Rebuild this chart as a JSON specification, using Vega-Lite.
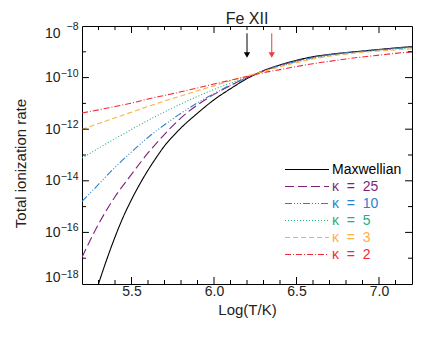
{
  "$schema": "https://vega.github.io/schema/vega-lite/v6.json",
  "width": 330,
  "height": 258,
  "autosize": {"type": "none"},
  "padding": {"left": 82, "top": 26, "right": 24, "bottom": 53},
  "title": {"text": "Fe XII", "fontSize": 16, "font": "Liberation Sans", "fontWeight": "normal", "anchor": "middle", "offset": -5, "color": "#222222"},
  "config": {"view": {"stroke": "black", "strokeWidth": 1}, "font": "Liberation Sans"},
  "datasets": {
    "curves": [
      {"series": "Maxwellian", "logT": 5.2, "rate": 6.31e-21},
      {"series": "Maxwellian", "logT": 5.25, "rate": 8.913e-20},
      {"series": "Maxwellian", "logT": 5.3, "rate": 1.0e-18},
      {"series": "Maxwellian", "logT": 5.35, "rate": 8.913e-18},
      {"series": "Maxwellian", "logT": 5.4, "rate": 6.607e-17},
      {"series": "Maxwellian", "logT": 5.45, "rate": 3.981e-16},
      {"series": "Maxwellian", "logT": 5.5, "rate": 1.862e-15},
      {"series": "Maxwellian", "logT": 5.55, "rate": 7.413e-15},
      {"series": "Maxwellian", "logT": 5.6, "rate": 2.57e-14},
      {"series": "Maxwellian", "logT": 5.65, "rate": 7.943e-14},
      {"series": "Maxwellian", "logT": 5.7, "rate": 2.239e-13},
      {"series": "Maxwellian", "logT": 5.75, "rate": 5.248e-13},
      {"series": "Maxwellian", "logT": 5.8, "rate": 1.122e-12},
      {"series": "Maxwellian", "logT": 5.9, "rate": 4.169e-12},
      {"series": "Maxwellian", "logT": 6.0, "rate": 1.38e-11},
      {"series": "Maxwellian", "logT": 6.1, "rate": 3.715e-11},
      {"series": "Maxwellian", "logT": 6.2, "rate": 9.12e-11},
      {"series": "Maxwellian", "logT": 6.3, "rate": 1.862e-10},
      {"series": "Maxwellian", "logT": 6.4, "rate": 3.09e-10},
      {"series": "Maxwellian", "logT": 6.5, "rate": 4.677e-10},
      {"series": "Maxwellian", "logT": 6.6, "rate": 6.457e-10},
      {"series": "Maxwellian", "logT": 6.7, "rate": 7.943e-10},
      {"series": "Maxwellian", "logT": 6.8, "rate": 9.333e-10},
      {"series": "Maxwellian", "logT": 6.9, "rate": 1.072e-9},
      {"series": "Maxwellian", "logT": 7.0, "rate": 1.23e-9},
      {"series": "Maxwellian", "logT": 7.1, "rate": 1.413e-9},
      {"series": "Maxwellian", "logT": 7.2, "rate": 1.585e-9},

      {"series": "κ\u00a0\u00a0=\u00a0\u00a025", "logT": 5.2, "rate": 1.096e-17},
      {"series": "κ\u00a0\u00a0=\u00a0\u00a025", "logT": 5.3, "rate": 2.089e-16},
      {"series": "κ\u00a0\u00a0=\u00a0\u00a025", "logT": 5.4, "rate": 2.399e-15},
      {"series": "κ\u00a0\u00a0=\u00a0\u00a025", "logT": 5.5, "rate": 1.778e-14},
      {"series": "κ\u00a0\u00a0=\u00a0\u00a025", "logT": 5.6, "rate": 1.202e-13},
      {"series": "κ\u00a0\u00a0=\u00a0\u00a025", "logT": 5.7, "rate": 6.31e-13},
      {"series": "κ\u00a0\u00a0=\u00a0\u00a025", "logT": 5.8, "rate": 2.754e-12},
      {"series": "κ\u00a0\u00a0=\u00a0\u00a025", "logT": 5.9, "rate": 8.71e-12},
      {"series": "κ\u00a0\u00a0=\u00a0\u00a025", "logT": 6.0, "rate": 2.239e-11},
      {"series": "κ\u00a0\u00a0=\u00a0\u00a025", "logT": 6.1, "rate": 4.898e-11},
      {"series": "κ\u00a0\u00a0=\u00a0\u00a025", "logT": 6.2, "rate": 1.0e-10},
      {"series": "κ\u00a0\u00a0=\u00a0\u00a025", "logT": 6.3, "rate": 1.82e-10},
      {"series": "κ\u00a0\u00a0=\u00a0\u00a025", "logT": 6.4, "rate": 3.02e-10},
      {"series": "κ\u00a0\u00a0=\u00a0\u00a025", "logT": 6.5, "rate": 4.467e-10},
      {"series": "κ\u00a0\u00a0=\u00a0\u00a025", "logT": 6.6, "rate": 6.166e-10},
      {"series": "κ\u00a0\u00a0=\u00a0\u00a025", "logT": 6.7, "rate": 7.762e-10},
      {"series": "κ\u00a0\u00a0=\u00a0\u00a025", "logT": 6.8, "rate": 9.12e-10},
      {"series": "κ\u00a0\u00a0=\u00a0\u00a025", "logT": 6.9, "rate": 1.047e-9},
      {"series": "κ\u00a0\u00a0=\u00a0\u00a025", "logT": 7.0, "rate": 1.202e-9},
      {"series": "κ\u00a0\u00a0=\u00a0\u00a025", "logT": 7.1, "rate": 1.38e-9},
      {"series": "κ\u00a0\u00a0=\u00a0\u00a025", "logT": 7.2, "rate": 1.549e-9},

      {"series": "κ\u00a0\u00a0=\u00a0\u00a010", "logT": 5.2, "rate": 1.585e-15},
      {"series": "κ\u00a0\u00a0=\u00a0\u00a010", "logT": 5.3, "rate": 7.244e-15},
      {"series": "κ\u00a0\u00a0=\u00a0\u00a010", "logT": 5.4, "rate": 3.311e-14},
      {"series": "κ\u00a0\u00a0=\u00a0\u00a010", "logT": 5.5, "rate": 1.318e-13},
      {"series": "κ\u00a0\u00a0=\u00a0\u00a010", "logT": 5.6, "rate": 4.786e-13},
      {"series": "κ\u00a0\u00a0=\u00a0\u00a010", "logT": 5.7, "rate": 1.479e-12},
      {"series": "κ\u00a0\u00a0=\u00a0\u00a010", "logT": 5.8, "rate": 4.169e-12},
      {"series": "κ\u00a0\u00a0=\u00a0\u00a010", "logT": 5.9, "rate": 1.047e-11},
      {"series": "κ\u00a0\u00a0=\u00a0\u00a010", "logT": 6.0, "rate": 2.399e-11},
      {"series": "κ\u00a0\u00a0=\u00a0\u00a010", "logT": 6.1, "rate": 5.129e-11},
      {"series": "κ\u00a0\u00a0=\u00a0\u00a010", "logT": 6.2, "rate": 1.0e-10},
      {"series": "κ\u00a0\u00a0=\u00a0\u00a010", "logT": 6.3, "rate": 1.778e-10},
      {"series": "κ\u00a0\u00a0=\u00a0\u00a010", "logT": 6.4, "rate": 2.884e-10},
      {"series": "κ\u00a0\u00a0=\u00a0\u00a010", "logT": 6.5, "rate": 4.266e-10},
      {"series": "κ\u00a0\u00a0=\u00a0\u00a010", "logT": 6.6, "rate": 5.888e-10},
      {"series": "κ\u00a0\u00a0=\u00a0\u00a010", "logT": 6.7, "rate": 7.586e-10},
      {"series": "κ\u00a0\u00a0=\u00a0\u00a010", "logT": 6.8, "rate": 9.12e-10},
      {"series": "κ\u00a0\u00a0=\u00a0\u00a010", "logT": 6.9, "rate": 1.047e-9},
      {"series": "κ\u00a0\u00a0=\u00a0\u00a010", "logT": 7.0, "rate": 1.202e-9},
      {"series": "κ\u00a0\u00a0=\u00a0\u00a010", "logT": 7.1, "rate": 1.349e-9},
      {"series": "κ\u00a0\u00a0=\u00a0\u00a010", "logT": 7.2, "rate": 1.514e-9},

      {"series": "κ\u00a0\u00a0=\u00a0\u00a05", "logT": 5.2, "rate": 7.586e-14},
      {"series": "κ\u00a0\u00a0=\u00a0\u00a05", "logT": 5.3, "rate": 1.82e-13},
      {"series": "κ\u00a0\u00a0=\u00a0\u00a05", "logT": 5.4, "rate": 4.266e-13},
      {"series": "κ\u00a0\u00a0=\u00a0\u00a05", "logT": 5.5, "rate": 9.772e-13},
      {"series": "κ\u00a0\u00a0=\u00a0\u00a05", "logT": 5.6, "rate": 2.188e-12},
      {"series": "κ\u00a0\u00a0=\u00a0\u00a05", "logT": 5.7, "rate": 4.677e-12},
      {"series": "κ\u00a0\u00a0=\u00a0\u00a05", "logT": 5.8, "rate": 9.55e-12},
      {"series": "κ\u00a0\u00a0=\u00a0\u00a05", "logT": 5.9, "rate": 1.862e-11},
      {"series": "κ\u00a0\u00a0=\u00a0\u00a05", "logT": 6.0, "rate": 3.467e-11},
      {"series": "κ\u00a0\u00a0=\u00a0\u00a05", "logT": 6.1, "rate": 6.166e-11},
      {"series": "κ\u00a0\u00a0=\u00a0\u00a05", "logT": 6.2, "rate": 1.047e-10},
      {"series": "κ\u00a0\u00a0=\u00a0\u00a05", "logT": 6.3, "rate": 1.738e-10},
      {"series": "κ\u00a0\u00a0=\u00a0\u00a05", "logT": 6.4, "rate": 2.754e-10},
      {"series": "κ\u00a0\u00a0=\u00a0\u00a05", "logT": 6.5, "rate": 4.074e-10},
      {"series": "κ\u00a0\u00a0=\u00a0\u00a05", "logT": 6.6, "rate": 5.623e-10},
      {"series": "κ\u00a0\u00a0=\u00a0\u00a05", "logT": 6.7, "rate": 7.244e-10},
      {"series": "κ\u00a0\u00a0=\u00a0\u00a05", "logT": 6.8, "rate": 8.71e-10},
      {"series": "κ\u00a0\u00a0=\u00a0\u00a05", "logT": 6.9, "rate": 1.023e-9},
      {"series": "κ\u00a0\u00a0=\u00a0\u00a05", "logT": 7.0, "rate": 1.148e-9},
      {"series": "κ\u00a0\u00a0=\u00a0\u00a05", "logT": 7.1, "rate": 1.288e-9},
      {"series": "κ\u00a0\u00a0=\u00a0\u00a05", "logT": 7.2, "rate": 1.413e-9},

      {"series": "κ\u00a0\u00a0=\u00a0\u00a03", "logT": 5.2, "rate": 9.772e-13},
      {"series": "κ\u00a0\u00a0=\u00a0\u00a03", "logT": 5.3, "rate": 1.66e-12},
      {"series": "κ\u00a0\u00a0=\u00a0\u00a03", "logT": 5.4, "rate": 2.754e-12},
      {"series": "κ\u00a0\u00a0=\u00a0\u00a03", "logT": 5.5, "rate": 4.571e-12},
      {"series": "κ\u00a0\u00a0=\u00a0\u00a03", "logT": 5.6, "rate": 7.586e-12},
      {"series": "κ\u00a0\u00a0=\u00a0\u00a03", "logT": 5.7, "rate": 1.23e-11},
      {"series": "κ\u00a0\u00a0=\u00a0\u00a03", "logT": 5.8, "rate": 1.95e-11},
      {"series": "κ\u00a0\u00a0=\u00a0\u00a03", "logT": 5.9, "rate": 3.09e-11},
      {"series": "κ\u00a0\u00a0=\u00a0\u00a03", "logT": 6.0, "rate": 4.786e-11},
      {"series": "κ\u00a0\u00a0=\u00a0\u00a03", "logT": 6.1, "rate": 7.586e-11},
      {"series": "κ\u00a0\u00a0=\u00a0\u00a03", "logT": 6.2, "rate": 1.148e-10},
      {"series": "κ\u00a0\u00a0=\u00a0\u00a03", "logT": 6.3, "rate": 1.738e-10},
      {"series": "κ\u00a0\u00a0=\u00a0\u00a03", "logT": 6.4, "rate": 2.63e-10},
      {"series": "κ\u00a0\u00a0=\u00a0\u00a03", "logT": 6.5, "rate": 3.802e-10},
      {"series": "κ\u00a0\u00a0=\u00a0\u00a03", "logT": 6.6, "rate": 5.248e-10},
      {"series": "κ\u00a0\u00a0=\u00a0\u00a03", "logT": 6.7, "rate": 6.761e-10},
      {"series": "κ\u00a0\u00a0=\u00a0\u00a03", "logT": 6.8, "rate": 8.128e-10},
      {"series": "κ\u00a0\u00a0=\u00a0\u00a03", "logT": 6.9, "rate": 9.55e-10},
      {"series": "κ\u00a0\u00a0=\u00a0\u00a03", "logT": 7.0, "rate": 1.072e-9},
      {"series": "κ\u00a0\u00a0=\u00a0\u00a03", "logT": 7.1, "rate": 1.175e-9},
      {"series": "κ\u00a0\u00a0=\u00a0\u00a03", "logT": 7.2, "rate": 1.288e-9},

      {"series": "κ\u00a0\u00a0=\u00a0\u00a02", "logT": 5.2, "rate": 4.266e-12},
      {"series": "κ\u00a0\u00a0=\u00a0\u00a02", "logT": 5.3, "rate": 5.623e-12},
      {"series": "κ\u00a0\u00a0=\u00a0\u00a02", "logT": 5.4, "rate": 7.586e-12},
      {"series": "κ\u00a0\u00a0=\u00a0\u00a02", "logT": 5.5, "rate": 1.023e-11},
      {"series": "κ\u00a0\u00a0=\u00a0\u00a02", "logT": 5.6, "rate": 1.479e-11},
      {"series": "κ\u00a0\u00a0=\u00a0\u00a02", "logT": 5.7, "rate": 2.042e-11},
      {"series": "κ\u00a0\u00a0=\u00a0\u00a02", "logT": 5.8, "rate": 2.818e-11},
      {"series": "κ\u00a0\u00a0=\u00a0\u00a02", "logT": 5.9, "rate": 3.981e-11},
      {"series": "κ\u00a0\u00a0=\u00a0\u00a02", "logT": 6.0, "rate": 5.623e-11},
      {"series": "κ\u00a0\u00a0=\u00a0\u00a02", "logT": 6.1, "rate": 7.943e-11},
      {"series": "κ\u00a0\u00a0=\u00a0\u00a02", "logT": 6.2, "rate": 1.096e-10},
      {"series": "κ\u00a0\u00a0=\u00a0\u00a02", "logT": 6.3, "rate": 1.549e-10},
      {"series": "κ\u00a0\u00a0=\u00a0\u00a02", "logT": 6.4, "rate": 2.042e-10},
      {"series": "κ\u00a0\u00a0=\u00a0\u00a02", "logT": 6.5, "rate": 2.692e-10},
      {"series": "κ\u00a0\u00a0=\u00a0\u00a02", "logT": 6.6, "rate": 3.467e-10},
      {"series": "κ\u00a0\u00a0=\u00a0\u00a02", "logT": 6.7, "rate": 4.266e-10},
      {"series": "κ\u00a0\u00a0=\u00a0\u00a02", "logT": 6.8, "rate": 5.248e-10},
      {"series": "κ\u00a0\u00a0=\u00a0\u00a02", "logT": 6.9, "rate": 6.31e-10},
      {"series": "κ\u00a0\u00a0=\u00a0\u00a02", "logT": 7.0, "rate": 7.413e-10},
      {"series": "κ\u00a0\u00a0=\u00a0\u00a02", "logT": 7.1, "rate": 8.71e-10},
      {"series": "κ\u00a0\u00a0=\u00a0\u00a02", "logT": 7.2, "rate": 1.0e-9}
    ],
    "arrows": [
      {"logT": 6.2, "rate": 5.2e-9, "rate2": 7.5e-10, "c": "#000000"},
      {"logT": 6.35, "rate": 5.2e-9, "rate2": 7.5e-10, "c": "#f03c3c"}
    ],
    "xmajor": [{"logT": 5.5}, {"logT": 6.0}, {"logT": 6.5}, {"logT": 7.0}],
    "xminor": [
      {"logT": 5.3}, {"logT": 5.4}, {"logT": 5.6}, {"logT": 5.7}, {"logT": 5.8}, {"logT": 5.9},
      {"logT": 6.1}, {"logT": 6.2}, {"logT": 6.3}, {"logT": 6.4}, {"logT": 6.6}, {"logT": 6.7},
      {"logT": 6.8}, {"logT": 6.9}, {"logT": 7.1}
    ],
    "ymajor": [{"rate": 1e-16}, {"rate": 1e-14}, {"rate": 1e-12}, {"rate": 1e-10}],
    "yminor": [{"rate": 1e-17}, {"rate": 1e-15}, {"rate": 1e-13}, {"rate": 1e-11}, {"rate": 1e-9}]
  },
  "layer": [
    {
      "layer": [
        {
          "data": {"name": "curves"},
          "mark": {"type": "line", "clip": true, "strokeWidth": 1.1, "interpolate": "monotone"},
          "encoding": {
            "x": {
              "field": "logT", "type": "quantitative",
              "scale": {"domain": [5.2, 7.2], "nice": false, "zero": false},
              "axis": {
                "orient": "bottom", "title": "Log(T/K)", "titleFontSize": 15, "titleFont": "Liberation Sans", "titleFontWeight": "normal", "titleColor": "#222222", "titlePadding": 4,
                "values": [5.5, 6.0, 6.5, 7.0], "format": ".1f",
                "ticks": false, "labelPadding": 0, "labelFontSize": 14, "labelFont": "Liberation Sans", "labelColor": "#222222",
                "grid": false, "domain": false, "labelFlush": false, "labelOverlap": false
              }
            },
            "y": {
              "field": "rate", "type": "quantitative",
              "scale": {"type": "log", "domain": [1e-18, 1e-8], "nice": false},
              "axis": {
                "orient": "left", "title": "Total ionization rate", "titleFontSize": 15, "titleFont": "Liberation Sans", "titleFontWeight": "normal", "titleColor": "#222222",
                "titleX": -54, "titleY": 137,
                "values": [1e-18, 1e-16, 1e-14, 1e-12, 1e-10, 1e-8],
                "labelExpr": "'10'",
                "ticks": false, "labelPadding": 22, "labelFontSize": 14, "labelFont": "Liberation Sans", "labelColor": "#222222",
                "grid": false, "domain": false, "labelFlush": true, "labelOverlap": false
              }
            },
            "color": {
              "field": "series", "type": "nominal",
              "scale": {
                "domain": ["Maxwellian", "κ\u00a0\u00a0=\u00a0\u00a025", "κ\u00a0\u00a0=\u00a0\u00a010", "κ\u00a0\u00a0=\u00a0\u00a05", "κ\u00a0\u00a0=\u00a0\u00a03", "κ\u00a0\u00a0=\u00a0\u00a02"],
                "range": ["#000000", "#7f1f7a", "#2f80c8", "#22b07d", "#ffb03a", "#f0283c"]
              },
              "legend": {
                "title": null, "orient": "none", "legendX": 218, "legendY": 136.5, "padding": 0,
                "symbolType": "M-22,0H22", "symbolSize": 4, "symbolStrokeWidth": 1.2, "labelOffset": 18,
                "labelFontSize": 14, "labelFont": "Liberation Sans", "rowPadding": 3,
                "encode": {"labels": {"update": {"fill": {"scale": "color", "field": "value"}}}}
              }
            },
            "strokeDash": {
              "field": "series", "type": "nominal",
              "scale": {
                "domain": ["Maxwellian", "κ\u00a0\u00a0=\u00a0\u00a025", "κ\u00a0\u00a0=\u00a0\u00a010", "κ\u00a0\u00a0=\u00a0\u00a05", "κ\u00a0\u00a0=\u00a0\u00a03", "κ\u00a0\u00a0=\u00a0\u00a02"],
                "range": [[1, 0], [9, 4], [7, 2, 1, 2, 1, 2, 1, 2], [1, 2], [5, 3], [6, 2, 1, 2]]
              }
            }
          }
        },
        {
          "data": {"name": "arrows"},
          "mark": {"type": "rule", "strokeWidth": 1},
          "encoding": {
            "x": {"field": "logT", "type": "quantitative"},
            "y": {"field": "rate", "type": "quantitative"},
            "y2": {"field": "rate2"},
            "stroke": {"field": "c", "type": "nominal", "scale": null}
          }
        },
        {
          "data": {"name": "arrows"},
          "mark": {"type": "point", "shape": "triangle-down", "filled": true, "size": 40, "opacity": 1},
          "encoding": {
            "x": {"field": "logT", "type": "quantitative"},
            "y": {"field": "rate2", "type": "quantitative"},
            "fill": {"field": "c", "type": "nominal", "scale": null}
          }
        },
        {
          "data": {"name": "xmajor"},
          "mark": {"type": "rule", "stroke": "#000000", "strokeWidth": 1},
          "encoding": {
            "x": {"field": "logT", "type": "quantitative"},
            "y": {"datum": 1e-18, "type": "quantitative"},
            "y2": {"datum": 1.87e-18}
          }
        },
        {
          "data": {"name": "xmajor"},
          "mark": {"type": "rule", "stroke": "#000000", "strokeWidth": 1},
          "encoding": {
            "x": {"field": "logT", "type": "quantitative"},
            "y": {"datum": 1e-8, "type": "quantitative"},
            "y2": {"datum": 5.35e-9}
          }
        },
        {
          "data": {"name": "xminor"},
          "mark": {"type": "rule", "stroke": "#000000", "strokeWidth": 1},
          "encoding": {
            "x": {"field": "logT", "type": "quantitative"},
            "y": {"datum": 1e-18, "type": "quantitative"},
            "y2": {"datum": 1.43e-18}
          }
        },
        {
          "data": {"name": "xminor"},
          "mark": {"type": "rule", "stroke": "#000000", "strokeWidth": 1},
          "encoding": {
            "x": {"field": "logT", "type": "quantitative"},
            "y": {"datum": 1e-8, "type": "quantitative"},
            "y2": {"datum": 7.0e-9}
          }
        },
        {
          "data": {"name": "ymajor"},
          "mark": {"type": "rule", "stroke": "#000000", "strokeWidth": 1},
          "encoding": {
            "y": {"field": "rate", "type": "quantitative"},
            "x": {"datum": 5.2, "type": "quantitative"},
            "x2": {"datum": 5.242}
          }
        },
        {
          "data": {"name": "ymajor"},
          "mark": {"type": "rule", "stroke": "#000000", "strokeWidth": 1},
          "encoding": {
            "y": {"field": "rate", "type": "quantitative"},
            "x": {"datum": 7.2, "type": "quantitative"},
            "x2": {"datum": 7.158}
          }
        },
        {
          "data": {"name": "yminor"},
          "mark": {"type": "rule", "stroke": "#000000", "strokeWidth": 1},
          "encoding": {
            "y": {"field": "rate", "type": "quantitative"},
            "x": {"datum": 5.2, "type": "quantitative"},
            "x2": {"datum": 5.224}
          }
        },
        {
          "data": {"name": "yminor"},
          "mark": {"type": "rule", "stroke": "#000000", "strokeWidth": 1},
          "encoding": {
            "y": {"field": "rate", "type": "quantitative"},
            "x": {"datum": 7.2, "type": "quantitative"},
            "x2": {"datum": 7.176}
          }
        }
      ]
    },
    {
      "data": {"name": "curves"},
      "mark": {"type": "point", "opacity": 0},
      "encoding": {
        "x": {
          "field": "logT", "type": "quantitative",
          "scale": {"domain": [5.2, 7.2], "nice": false, "zero": false},
          "axis": null
        },
        "y": {
          "field": "rate", "type": "quantitative",
          "scale": {"type": "log", "domain": [1e-18, 1e-8], "nice": false},
          "axis": {
            "orient": "left", "title": null, "values": [1e-18, 1e-16, 1e-14, 1e-12, 1e-10, 1e-8],
            "labelExpr": "round(log(datum.value)/LN10) == -8 ? '−8' : round(log(datum.value)/LN10) == -10 ? '−10' : round(log(datum.value)/LN10) == -12 ? '−12' : round(log(datum.value)/LN10) == -14 ? '−14' : round(log(datum.value)/LN10) == -16 ? '−16' : '−18'",
            "ticks": false, "labelPadding": 4, "labelFontSize": 10.5, "labelFont": "Liberation Sans", "labelColor": "#222222", "labelOffset": -4.5,
            "labelFlush": true, "labelOverlap": false, "grid": false, "domain": false
          }
        }
      }
    }
  ],
  "resolve": {"scale": {"x": "independent", "y": "independent"}}
}
